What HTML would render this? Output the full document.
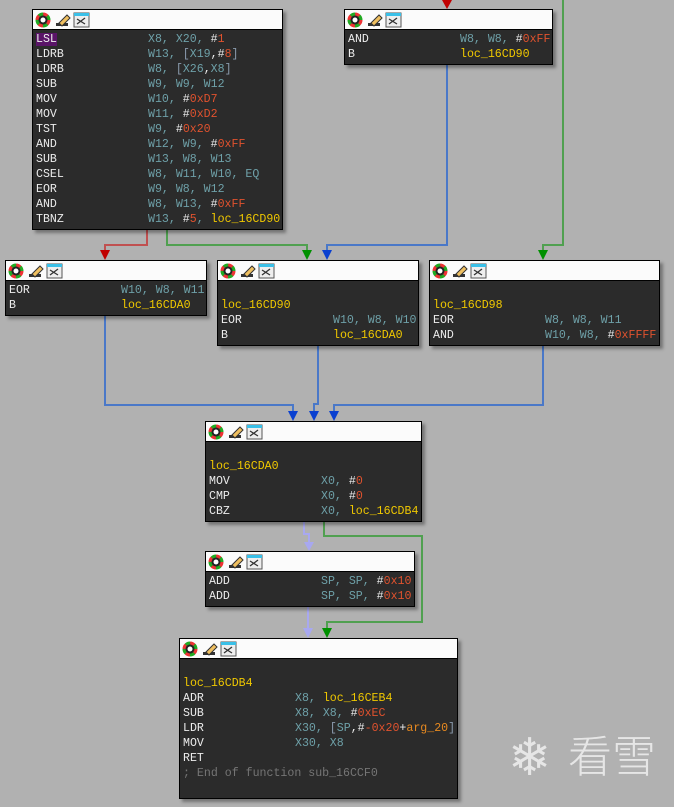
<!DOCTYPE html>
<html><head><meta charset="utf-8"><style>
html,body{margin:0;padding:0}
body{width:674px;height:807px;background:#b1b1b1;position:relative;overflow:hidden;font-family:"Liberation Mono",monospace;font-size:11.6px}
.b{position:absolute;border:1px solid #000;background:#2b2b2b;box-shadow:3px 3px 3px rgba(0,0,0,.35);box-sizing:border-box}
.h{height:19px;background:#fbfbfb;border-bottom:1px solid #000;position:relative}
.bd{padding-top:2px}
.l{height:15px;line-height:15px;padding-left:3px;white-space:pre;color:#ececec}
.m{display:inline-block;width:112px}
.r{color:#6ea0a8}.n{color:#e0522e}.y{color:#f0c800}.g{color:#8a9aac}.o{color:#e88a20}.c{color:#757575}
.hl{background:#5a1468}
svg.e{position:absolute;left:0;top:0}
</style></head><body>
<svg class="e" width="674" height="807">
<g fill="none" stroke-width="2">
<path d="M147 229V245H105V252" stroke="#c05050"/>
<path d="M167 229V245H307V252" stroke="#50a050"/>
<path d="M447 64V245H327V252" stroke="#4a78c8"/>
<path d="M563 0V245H543V252" stroke="#50a050"/>
<path d="M447 0V2" stroke="#c05050"/>
<path d="M105 315V405H293V413" stroke="#4a78c8"/>
<path d="M318 345V404H314V413" stroke="#4a78c8"/>
<path d="M543 345V405H334V413" stroke="#4a78c8"/>
<path d="M304 521V534H309V543" stroke="#a8a8f0"/>
<path d="M324 521V536H422V622H327V630" stroke="#50a050"/>
<path d="M308 606V630" stroke="#a8a8f0"/>
</g>
<polygon points="100,250 110,250 105,260" fill="#c00000"/>
<polygon points="302,250 312,250 307,260" fill="#009000"/>
<polygon points="322,250 332,250 327,260" fill="#0a40d0"/>
<polygon points="538,250 548,250 543,260" fill="#009000"/>
<polygon points="442,0 452,0 447,9" fill="#c00000"/>
<polygon points="288,411 298,411 293,421" fill="#0a40d0"/>
<polygon points="309,411 319,411 314,421" fill="#0a40d0"/>
<polygon points="329,411 339,411 334,421" fill="#0a40d0"/>
<polygon points="304,542 314,542 309,551" fill="#a8a8f0"/>
<polygon points="322,628 332,628 327,638" fill="#009000"/>
<polygon points="303,628 313,628 308,638" fill="#a8a8f0"/>
</svg>

<div class="b" style="left:32px;top:9px;width:251px;height:221px"><div class="h"></div><div class="bd">
<div class="l"><span class="m"><span class="hl">LSL</span></span><span class="r">X8, X20, </span>#<span class="n">1</span></div>
<div class="l"><span class="m">LDRB</span><span class="r">W13, </span><span class="g">[</span><span class="r">X19</span>,#<span class="n">8</span><span class="g">]</span></div>
<div class="l"><span class="m">LDRB</span><span class="r">W8, </span><span class="g">[</span><span class="r">X26</span>,<span class="r">X8</span><span class="g">]</span></div>
<div class="l"><span class="m">SUB</span><span class="r">W9, W9, W12</span></div>
<div class="l"><span class="m">MOV</span><span class="r">W10, </span>#<span class="n">0xD7</span></div>
<div class="l"><span class="m">MOV</span><span class="r">W11, </span>#<span class="n">0xD2</span></div>
<div class="l"><span class="m">TST</span><span class="r">W9, </span>#<span class="n">0x20</span></div>
<div class="l"><span class="m">AND</span><span class="r">W12, W9, </span>#<span class="n">0xFF</span></div>
<div class="l"><span class="m">SUB</span><span class="r">W13, W8, W13</span></div>
<div class="l"><span class="m">CSEL</span><span class="r">W8, W11, W10, EQ</span></div>
<div class="l"><span class="m">EOR</span><span class="r">W9, W8, W12</span></div>
<div class="l"><span class="m">AND</span><span class="r">W8, W13, </span>#<span class="n">0xFF</span></div>
<div class="l"><span class="m">TBNZ</span><span class="r">W13, </span>#<span class="n">5</span><span class="r">, </span><span class="y">loc_16CD90</span></div>
</div></div>

<div class="b" style="left:344px;top:9px;width:209px;height:56px"><div class="h"></div><div class="bd">
<div class="l"><span class="m">AND</span><span class="r">W8, W8, </span>#<span class="n">0xFF</span></div>
<div class="l"><span class="m">B</span><span class="y">loc_16CD90</span></div>
</div></div>

<div class="b" style="left:5px;top:260px;width:202px;height:56px"><div class="h"></div><div class="bd">
<div class="l"><span class="m">EOR</span><span class="r">W10, W8, W11</span></div>
<div class="l"><span class="m">B</span><span class="y">loc_16CDA0</span></div>
</div></div>

<div class="b" style="left:217px;top:260px;width:202px;height:86px"><div class="h"></div><div class="bd">
<div class="l"> </div>
<div class="l"><span class="y">loc_16CD90</span></div>
<div class="l"><span class="m">EOR</span><span class="r">W10, W8, W10</span></div>
<div class="l"><span class="m">B</span><span class="y">loc_16CDA0</span></div>
</div></div>

<div class="b" style="left:429px;top:260px;width:231px;height:86px"><div class="h"></div><div class="bd">
<div class="l"> </div>
<div class="l"><span class="y">loc_16CD98</span></div>
<div class="l"><span class="m">EOR</span><span class="r">W8, W8, W11</span></div>
<div class="l"><span class="m">AND</span><span class="r">W10, W8, </span>#<span class="n">0xFFFF</span></div>
</div></div>

<div class="b" style="left:205px;top:421px;width:217px;height:101px"><div class="h"></div><div class="bd">
<div class="l"> </div>
<div class="l"><span class="y">loc_16CDA0</span></div>
<div class="l"><span class="m">MOV</span><span class="r">X0, </span>#<span class="n">0</span></div>
<div class="l"><span class="m">CMP</span><span class="r">X0, </span>#<span class="n">0</span></div>
<div class="l"><span class="m">CBZ</span><span class="r">X0, </span><span class="y">loc_16CDB4</span></div>
</div></div>

<div class="b" style="left:205px;top:551px;width:210px;height:56px"><div class="h"></div><div class="bd">
<div class="l"><span class="m">ADD</span><span class="r">SP, SP, </span>#<span class="n">0x10</span></div>
<div class="l"><span class="m">ADD</span><span class="r">SP, SP, </span>#<span class="n">0x10</span></div>
</div></div>

<div class="b" style="left:179px;top:638px;width:279px;height:161px"><div class="h"></div><div class="bd">
<div class="l"> </div>
<div class="l"><span class="y">loc_16CDB4</span></div>
<div class="l"><span class="m">ADR</span><span class="r">X8, </span><span class="y">loc_16CEB4</span></div>
<div class="l"><span class="m">SUB</span><span class="r">X8, X8, </span>#<span class="n">0xEC</span></div>
<div class="l"><span class="m">LDR</span><span class="r">X30, </span><span class="g">[</span><span class="r">SP</span>,#<span class="n">-0x20</span>+<span class="o">arg_20</span><span class="g">]</span></div>
<div class="l"><span class="m">MOV</span><span class="r">X30, X8</span></div>
<div class="l"><span class="m">RET</span></div>
<div class="l c">; End of function sub_16CCF0</div>
</div></div>

<div style="position:absolute;left:508px;top:729px;font-size:52px;line-height:58px;color:#e6e6e6;font-family:'DejaVu Sans',sans-serif">❄</div>
<div style="position:absolute;left:568px;top:733px;font-size:44px;line-height:50px;color:#e6e6e6;font-family:'Liberation Sans','Noto Sans CJK SC',sans-serif;font-weight:300">看雪</div>

<script>
document.querySelectorAll('.h').forEach(function(h){
h.innerHTML='<svg width="70" height="19" style="position:absolute;left:2px;top:1px"><circle cx="8" cy="9" r="7" fill="#222"/><circle cx="8" cy="9" r="6" fill="none" stroke="#e33" stroke-width="3" stroke-dasharray="4.7 4.7"/><circle cx="8" cy="9" r="6" fill="none" stroke="#2a2" stroke-width="3" stroke-dasharray="4.7 4.7" stroke-dashoffset="4.7"/><circle cx="8" cy="9" r="2.5" fill="#fff"/><path d="M21 15L33 15L33 12L21 12Z" fill="#333"/><path d="M24 12L32 4L35 7L27 15Z" fill="#f0c060" stroke="#333" stroke-width="1"/><rect x="39" y="2" width="15" height="14" fill="#eee" stroke="#555"/><rect x="39" y="2" width="15" height="3" fill="#3ac0e8"/><path d="M42 13L50 7M42 8L50 13" stroke="#333" stroke-width="1.3"/></svg>';
});
</script>
</body></html>
